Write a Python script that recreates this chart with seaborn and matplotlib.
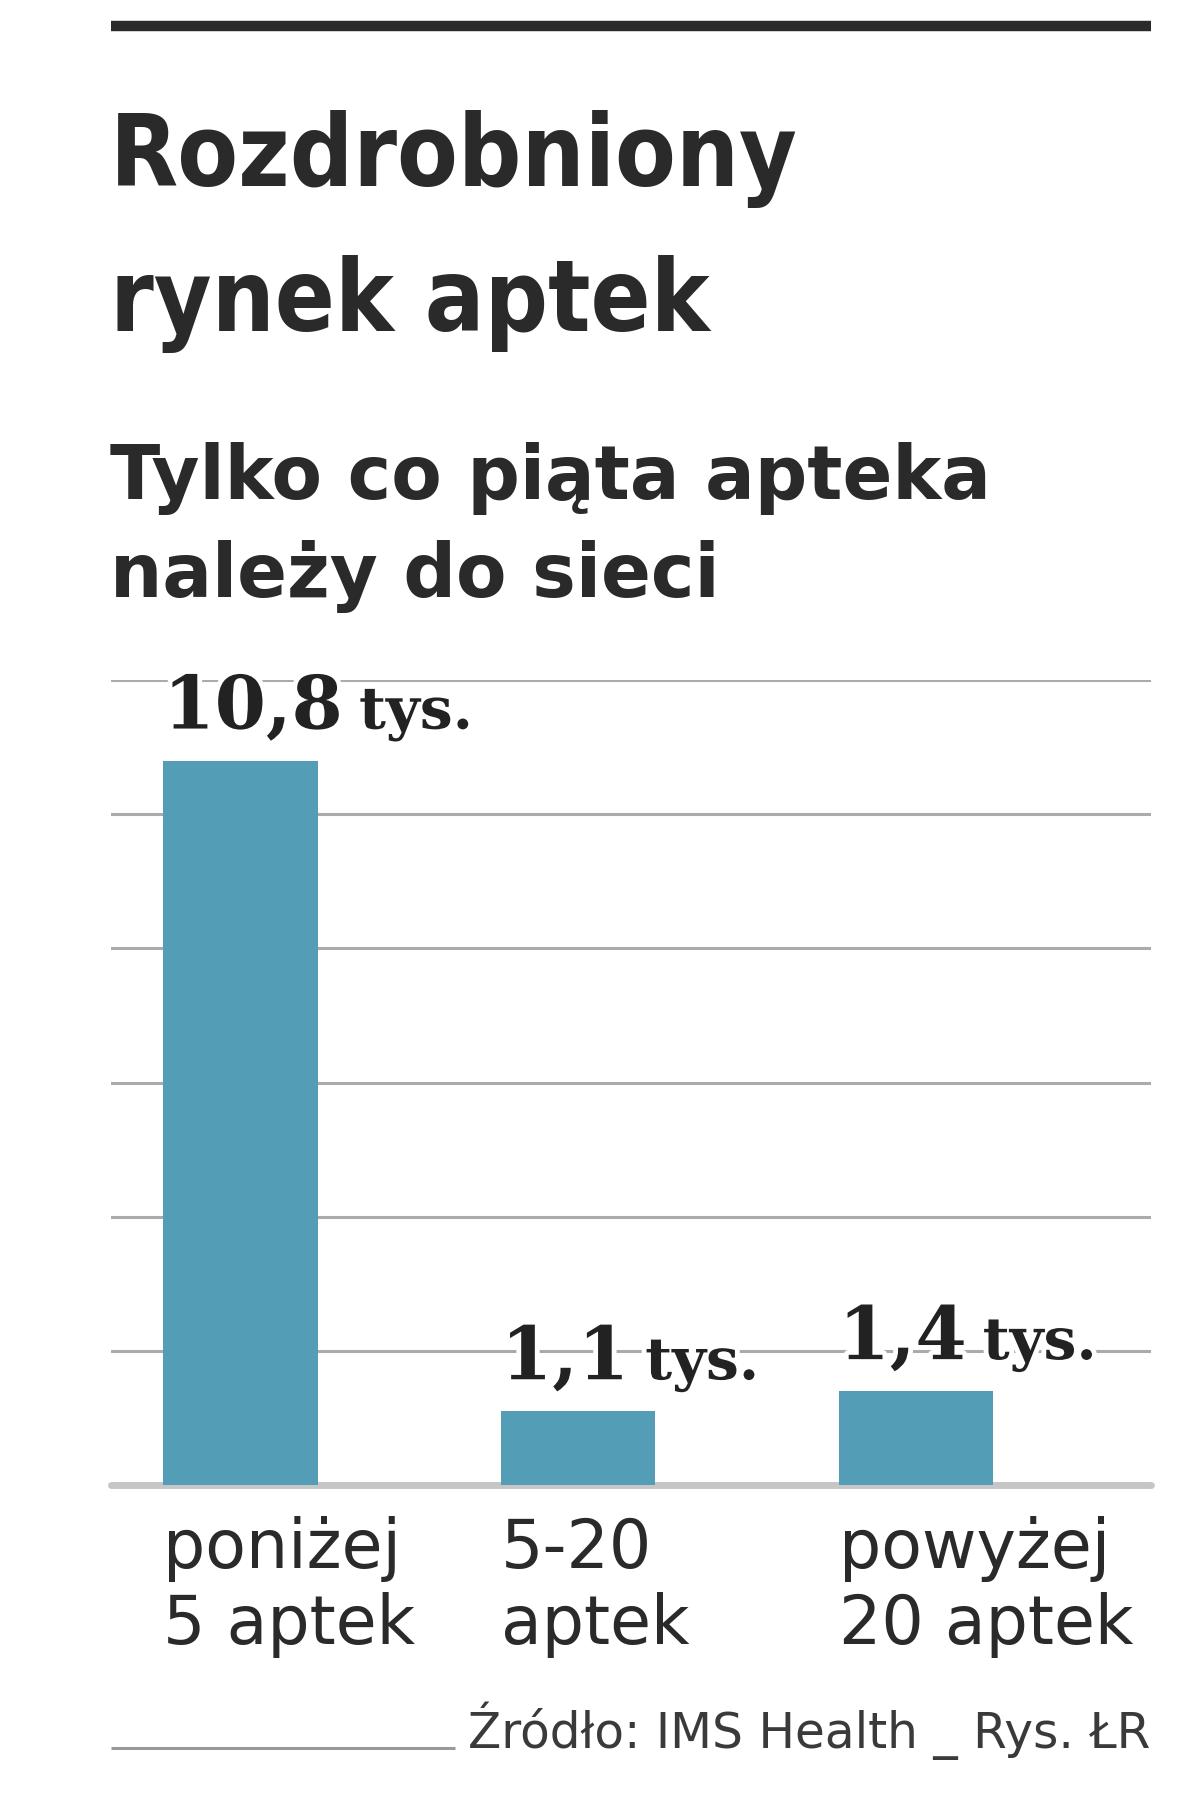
import matplotlib
matplotlib.use("Agg")
import matplotlib.pyplot as plt
import matplotlib.patheffects as pe
from matplotlib.lines import Line2D
import seaborn as sns
import pandas as pd

# ---- data ----
categories = ["poniżej\n5 aptek", "5-20\naptek", "powyżej\n20 aptek"]
values = [10.8, 1.1, 1.4]
value_labels = ["10,8", "1,1", "1,4"]
unit_label = "tys."
grid_ticks = [0, 2, 4, 6, 8, 10, 12]
title = "Rozdrobniony\nrynek aptek"
subtitle = "Tylko co piąta apteka\nnależy do sieci"
source = "Źródło: IMS Health _ Rys. ŁR"

W, H = 1200, 1802
sns.set_theme(style="white")
plt.rcParams["font.family"] = ["DejaVu Sans"]

fig = plt.figure(figsize=(W / 100, H / 100), dpi=100)
fig.patch.set_facecolor("white")


def fx(px):
    return px / W


def fy(py):
    return 1 - py / H


TXT = "#2a2a2a"

# top rule
fig.add_artist(Line2D([fx(111), fx(1151)], [fy(26), fy(26)], color=TXT, lw=7.5,
                      solid_capstyle="butt"))

# title & subtitle (va='baseline' anchors the last line)
fig.text(fx(110), fy(331), title, ha="left", va="baseline", fontsize=71,
         fontweight="bold", fontstretch="condensed", color=TXT, linespacing=1.62)
fig.text(fx(110), fy(597), subtitle, ha="left", va="baseline", fontsize=53,
         fontweight="bold", color=TXT, linespacing=1.43)

# chart axes
ax = fig.add_axes([fx(111), fy(1485), fx(1151) - fx(111), fy(680) - fy(1485)])
df = pd.DataFrame({"cat": categories, "val": values})
bar_w = 0.457
sns.barplot(data=df, x="cat", y="val", color="#539db6", saturation=1,
            width=bar_w, linewidth=0, ax=ax, zorder=3)
ax.set_xlim(-0.384, 2.697)
ax.set_ylim(0, 12)
ax.set_yticks(grid_ticks[1:])
ax.set_axisbelow(True)
ax.grid(axis="y", color="#ababab", lw=2.2)
ax.grid(axis="x", visible=False)
ax.axhline(0, color="#c6c6c6", lw=5, zorder=2, clip_on=False)
for s in ax.spines.values():
    s.set_visible(False)
ax.tick_params(left=False, bottom=False, labelleft=False, labelbottom=False)
ax.set_xlabel("")
ax.set_ylabel("")
ax.patch.set_alpha(0)

# category labels (baseline of the second line)
for i, cat in enumerate(categories):
    ax.annotate(cat, xy=(i - bar_w / 2, 0), xycoords="data",
                xytext=(0, -(1644 - 1485) * 0.72), textcoords="offset points",
                ha="left", va="baseline", fontsize=48, color=TXT, linespacing=1.2,
                annotation_clip=False)

# value labels
stroke = [pe.withStroke(linewidth=7, foreground="white")]
fig.canvas.draw()
renderer = fig.canvas.get_renderer()
for i, (v, lab) in enumerate(zip(values, value_labels)):
    x0 = i - bar_w / 2
    t = ax.annotate(lab, xy=(x0, v), xytext=(0, 23), textcoords="offset points",
                    ha="left", va="baseline", fontsize=53, fontweight="bold",
                    family="DejaVu Serif", color="#222222", path_effects=stroke,
                    annotation_clip=False, zorder=5)
    bb = t.get_window_extent(renderer)
    ax_x = ax.transData.transform((x0, v))[0]
    dx = (bb.x1 - ax_x + 16) * 0.72
    ax.annotate(unit_label, xy=(x0, v), xytext=(dx, 23), textcoords="offset points",
                ha="left", va="baseline", fontsize=42, fontweight="bold",
                family="DejaVu Serif", color="#222222", path_effects=stroke,
                annotation_clip=False, zorder=5)

# footer
fig.add_artist(Line2D([fx(111), fx(455)], [fy(1748), fy(1748)], color="#9a9a9a",
                      lw=2.2, solid_capstyle="butt"))
fig.text(fx(1150), fy(1748), source, ha="right", va="baseline", fontsize=35,
         color="#3a3a3a")

fig.savefig("out.png", dpi=100, facecolor="white")
